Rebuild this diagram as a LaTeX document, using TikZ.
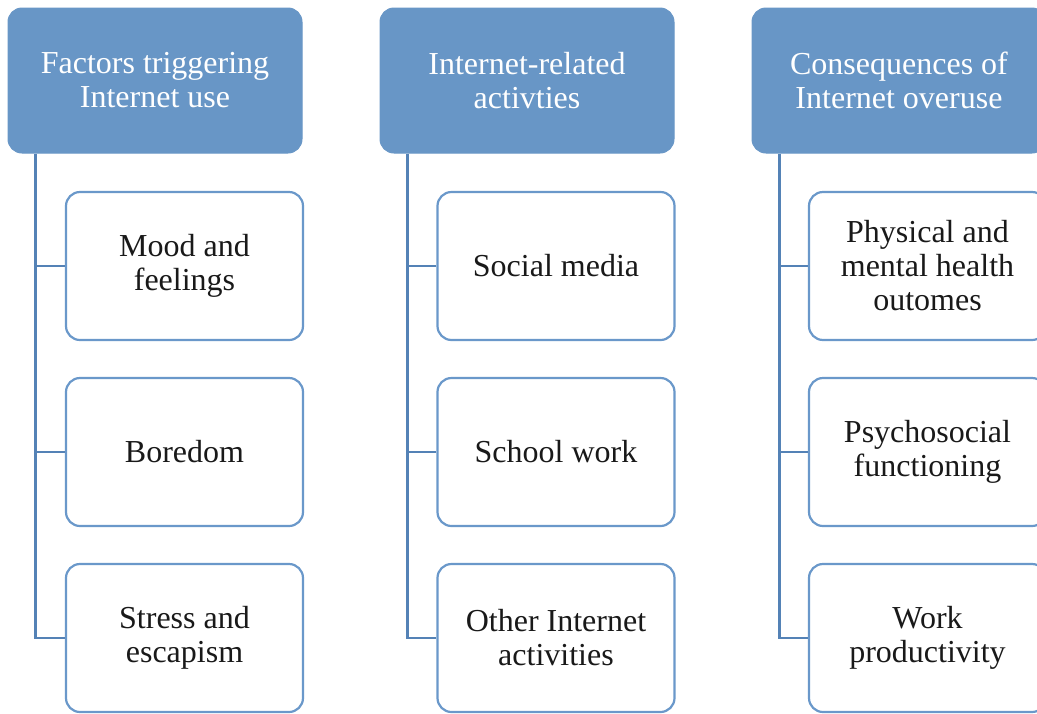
\documentclass[tikz,border=0pt]{standalone}
\usepackage{fontspec}
\setmainfont{Liberation Serif}
\usetikzlibrary{positioning}
\definecolor{headblue}{RGB}{104,150,198}
\definecolor{edgeblue}{RGB}{106,152,202}
\definecolor{linkblue}{RGB}{84,130,182}
\tikzset{
  headbox/.style={draw=headblue, fill=headblue, rounded corners=14pt, line width=1pt,
    minimum width=294pt, minimum height=145pt, align=center, text=white,
    font=\fontsize{32}{34}\selectfont},
  itembox/.style={draw=edgeblue, fill=white, rounded corners=14pt, line width=2.2pt,
    minimum width=237pt, minimum height=148pt, align=center, text=black!90,
    font=\fontsize{32}{34}\selectfont},
  link/.style={draw=linkblue, line width=2.2pt}
}
\begin{document}
\begin{tikzpicture}[x=1pt, y=-1pt]
        \useasboundingbox (0,0) rectangle (1037,713);
        %%%%%%%%%%%%%%%%%%%%%%%% Columna 1 %%%%%%%%%%%%%%%%%%%%%%%%%%%%%%%%%%%%%%%
        \node[headbox] (factors) at (155,80.5) {Factors triggering\\Internet use};
        \node[itembox] (mood) at (184.5,266) {Mood and\\feelings};
        \node[itembox] (boredom) at (184.5,452) {Boredom};
        \node[itembox] (stress) at (184.5,638) {Stress and\\escapism};
        \coordinate (trunkA) at ([xshift=28pt]factors.south west); %Tronco vertical
        \draw[link] (trunkA) |- (stress.west);
        \draw[link] (mood.west) -- (mood.west -| trunkA);
        \draw[link] (boredom.west) -- (boredom.west -| trunkA);
        %%%%%%%%%%%%%%%%%%%%%%%% Columna 2 %%%%%%%%%%%%%%%%%%%%%%%%%%%%%%%%%%%%%%%
        \node[headbox] (activities) at (527,80.5) {Internet-related\\activties};
        \node[itembox] (social) at (556,266) {Social media};
        \node[itembox] (school) at (556,452) {School work};
        \node[itembox] (other) at (556,638) {Other Internet\\activities};
        \coordinate (trunkB) at ([xshift=28pt]activities.south west);
        \draw[link] (trunkB) |- (other.west);
        \draw[link] (social.west) -- (social.west -| trunkB);
        \draw[link] (school.west) -- (school.west -| trunkB);
        %%%%%%%%%%%%%%%%%%%%%%%% Columna 3 %%%%%%%%%%%%%%%%%%%%%%%%%%%%%%%%%%%%%%%
        \node[headbox] (consequences) at (899,80.5) {Consequences of\\Internet overuse};
        \node[itembox] (health) at (927.5,266) {Physical and\\mental health\\outomes};
        \node[itembox] (psycho) at (927.5,452) {Psychosocial\\functioning};
        \node[itembox] (work) at (927.5,638) {Work\\productivity};
        \coordinate (trunkC) at ([xshift=28pt]consequences.south west); %Ramas cortadas a la derecha
        \draw[link] (trunkC) |- (work.west);
        \draw[link] (health.west) -- (health.west -| trunkC);
        \draw[link] (psycho.west) -- (psycho.west -| trunkC);
      \end{tikzpicture}
\end{document}
